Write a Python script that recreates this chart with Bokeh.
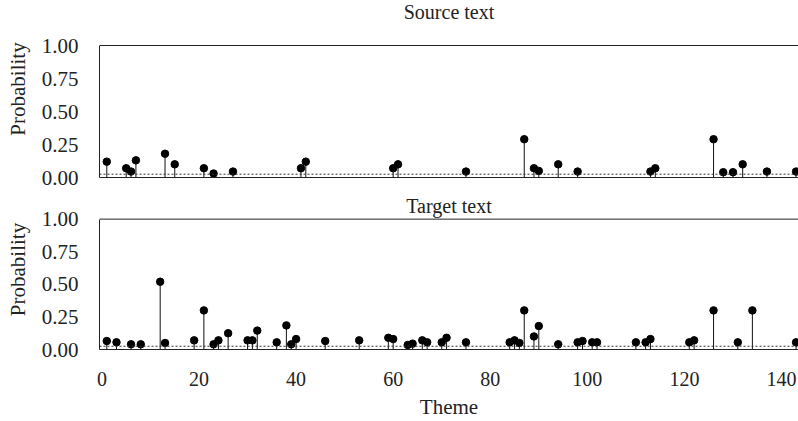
from bokeh.plotting import figure
from bokeh.models import Range1d, FixedTicker, Span, NumeralTickFormatter, ColumnDataSource
from bokeh.layouts import column
from bokeh.core.properties import value
from bokeh.embed import file_html
from bokeh.resources import INLINE

# ---- data ----
source_theme = [1, 5, 6, 7, 13, 15, 21, 23, 27, 41, 42, 60, 61, 75, 87, 89, 90, 94,
                98, 113, 114, 126, 128, 130, 132, 137, 143]
source_prob = [0.12, 0.07, 0.045, 0.13, 0.18, 0.10, 0.07, 0.03, 0.045, 0.07, 0.12, 0.07,
               0.10, 0.045, 0.29, 0.07, 0.05, 0.10, 0.045, 0.045, 0.07, 0.29, 0.04, 0.04,
               0.10, 0.045, 0.045]

target_theme = [1, 3, 6, 8, 12, 13, 19, 21, 23, 24, 26, 30, 31, 32, 36, 38, 39, 40, 46,
                53, 59, 60, 63, 64, 66, 67, 70, 71, 75, 84, 85, 86, 87, 89, 90, 94, 98,
                99, 101, 102, 110, 112, 113, 121, 122, 126, 131, 134, 143]
target_prob = [0.065, 0.055, 0.04, 0.04, 0.52, 0.05, 0.07, 0.30, 0.04, 0.07, 0.125, 0.07,
               0.07, 0.145, 0.055, 0.185, 0.04, 0.08, 0.065, 0.07, 0.09, 0.08, 0.035,
               0.045, 0.07, 0.055, 0.055, 0.09, 0.055, 0.055, 0.07, 0.05, 0.30, 0.10,
               0.18, 0.04, 0.055, 0.065, 0.055, 0.055, 0.055, 0.055, 0.08, 0.055, 0.07,
               0.30, 0.055, 0.30, 0.055]

threshold = 0.025
x_ticks = [0, 20, 40, 60, 80, 100, 120, 140]
y_ticks = [0.0, 0.25, 0.50, 0.75, 1.00]
titles = ["Source text", "Target text"]

FONT = "Liberation Serif"
INK = "#222222"
X_RANGE = (-0.5, 143.5)
W = 798
K = 132.0


def make_panel(themes, probs, title, y_end, height, bottom_border, show_x_labels, title_offset):
    p = figure(width=W, height=height, output_backend="svg", toolbar_location=None,
               x_range=Range1d(*X_RANGE), y_range=Range1d(0, y_end),
               min_border_left=99, min_border_right=0, min_border_top=0,
               min_border_bottom=bottom_border)
    p.outline_line_color = None
    p.grid.visible = False
    p.background_fill_color = "white"
    p.border_fill_color = "white"

    # y axis
    ya = p.yaxis[0]
    ya.ticker = FixedTicker(ticks=y_ticks)
    ya.formatter = NumeralTickFormatter(format="0.00")
    ya.bounds = (0, 1)
    ya.axis_label = "Probability"
    ya.axis_label_text_font = FONT
    ya.axis_label_text_font_style = "normal"
    ya.axis_label_text_font_size = "21px"
    ya.axis_label_text_color = INK
    ya.axis_label_standoff = 9
    ya.major_label_text_font = FONT
    ya.major_label_text_font_size = "21px"
    ya.major_label_text_color = INK
    ya.major_label_standoff = 15
    ya.major_tick_line_color = None
    ya.minor_tick_line_color = None
    ya.axis_line_color = INK

    # x axis
    xa = p.xaxis[0]
    xa.ticker = FixedTicker(ticks=x_ticks)
    xa.major_tick_line_color = None
    xa.minor_tick_line_color = None
    xa.axis_line_color = INK
    if show_x_labels:
        xa.major_label_text_font = FONT
        xa.major_label_text_font_size = "20px"
        xa.major_label_text_color = INK
        xa.major_label_standoff = 16
        xa.axis_label = "Theme"
        xa.axis_label_text_font = FONT
        xa.axis_label_text_font_style = "normal"
        xa.axis_label_text_font_size = "21px"
        xa.axis_label_text_color = INK
        xa.axis_label_standoff = 6
    else:
        xa.major_label_text_font_size = "0px"
        xa.major_label_standoff = 0

    # top frame line at 1.00
    p.add_layout(Span(location=1.0, dimension="width", line_color=INK, line_width=1))
    # reference dotted line
    p.add_layout(Span(location=threshold, dimension="width", line_color="#333333",
                      line_width=1, line_dash="2 2"))

    src = ColumnDataSource(dict(x=themes, y=probs, y0=[0] * len(themes)))
    p.segment(x0="x", y0="y0", x1="x", y1="y", source=src, line_color="#111111", line_width=1)
    p.scatter(x="x", y="y", source=src, size=7.5, fill_color="black", line_color="black")

    p.text(x=[(X_RANGE[0] + X_RANGE[1]) / 2], y=[y_end], text=[title],
           text_font=value(FONT), text_font_size="20px", text_color=INK,
           text_align="center", text_baseline="top", y_offset=title_offset)
    return p


p1 = make_panel(source_theme, source_prob, titles[0], 177 / K, 189, 12, False, 0)
p2 = make_panel(target_theme, target_prob, titles[1], 162 / K, 232, 70, True, 5)

layout = column(p1, p2, spacing=0)
open("out.html", "w").write(file_html(layout, INLINE))
